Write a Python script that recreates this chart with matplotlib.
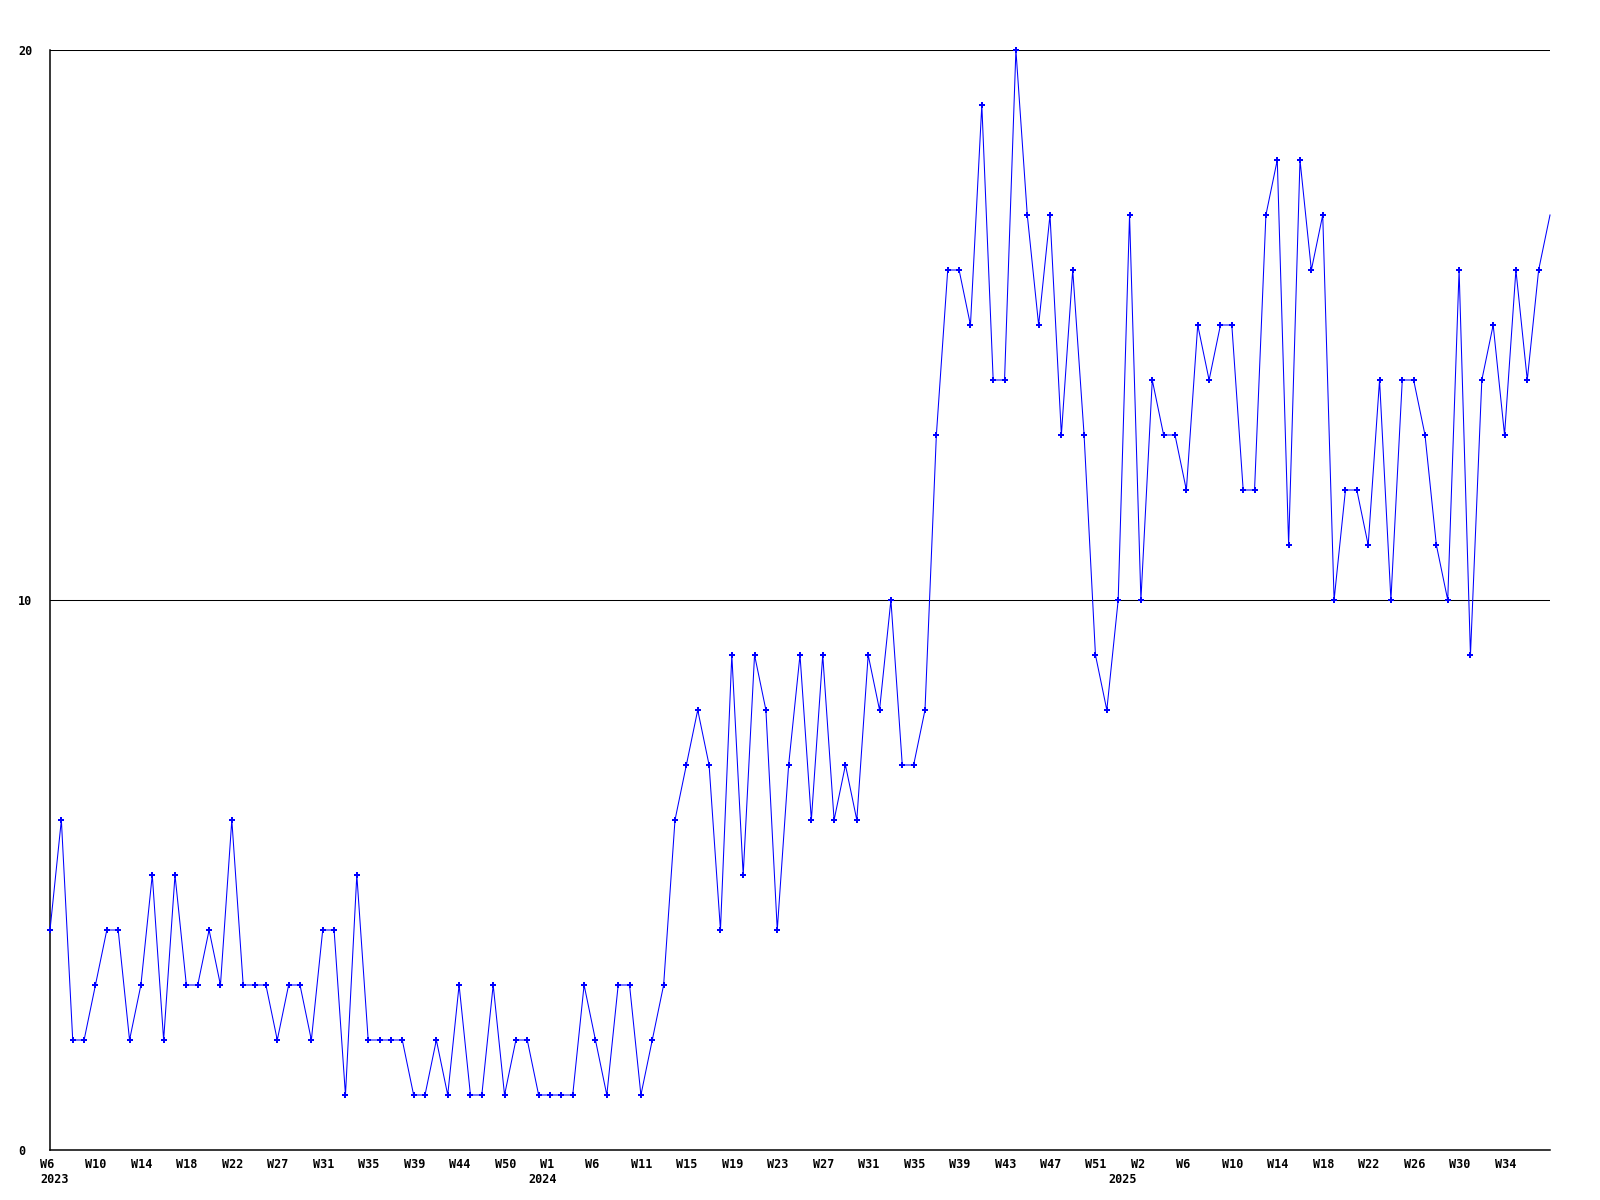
import numpy as np
import matplotlib
matplotlib.use("Agg")
import matplotlib.pyplot as plt
import matplotlib.transforms as mtransforms

# valores semanais (2023 W6 .. 2025)
valores = [4, 6, 2, 2, 3, 4, 4, 2, 3, 5, 2, 5, 3, 3, 4, 3, 6, 3, 3, 3,
           2, 3, 3, 2, 4, 4, 1, 5, 2, 2, 2, 2, 1, 1, 2, 1, 3, 1, 1, 3,
           1, 2, 2, 1, 1, 1, 1, 3, 2, 1, 3, 3, 1, 2, 3, 6, 7, 8, 7, 4,
           9, 5, 9, 8, 4, 7, 9, 6, 9, 6, 7, 6, 9, 8, 10, 7, 7, 8, 13, 16,
           16, 15, 19, 14, 14, 20, 17, 15, 17, 13, 16, 13, 9, 8, 10, 17, 10, 14, 13, 13,
           12, 15, 14, 15, 15, 12, 12, 17, 18, 11, 18, 16, 17, 10, 12, 12, 11, 14, 10, 14,
           14, 13, 11, 10, 16, 9, 14, 15, 13, 16, 14, 16, 17]

# rótulos das semanas (um a cada 4 pontos)
semanas = ["W6", "W10", "W14", "W18", "W22", "W27", "W31", "W35", "W39", "W44",
           "W50", "W1", "W6", "W11", "W15", "W19", "W23", "W27", "W31", "W35",
           "W39", "W43", "W47", "W51", "W2", "W6", "W10", "W14", "W18", "W22",
           "W26", "W30", "W34"]
passo_semanas = 4

# anos e o índice onde começam
anos = ["2023", "2024", "2025"]
inicio_anos = [0, 43, 94]

plt.rcParams['font.family'] = 'DejaVu Sans Mono'
plt.rcParams['font.weight'] = 'bold'

x = np.arange(len(valores))

fig = plt.figure(figsize=(16, 12), dpi=100)
ax = fig.add_axes([50 / 1600, 50 / 1200, 1500 / 1600, 1100 / 1200])

ax.plot(x, valores, color='#0000ff', linewidth=0.75, marker='P', markersize=4.5,
        markeredgewidth=0, markevery=slice(0, len(valores) - 1), clip_on=False,
        zorder=3)

ax.set_xlim(0, len(valores) - 1)
ax.set_ylim(0, 20)

# linhas de grade horizontais
for v in [10, 20]:
    ax.axhline(v, color='black', linewidth=0.75, zorder=2)

for lado in ['top', 'right']:
    ax.spines[lado].set_visible(False)
for lado in ['left', 'bottom']:
    ax.spines[lado].set_linewidth(1.1)
    ax.spines[lado].set_color('black')

# eixo y
ax.set_yticks([0, 10, 20])
ax.set_yticklabels(['0', '10', '20'], fontsize=8.5, fontweight='bold')
ax.tick_params(axis='y', length=0, pad=23)
for lab in ax.get_yticklabels():
    lab.set_horizontalalignment('left')

# eixo x
ax.set_xticks(x[::passo_semanas][:len(semanas)])
ax.set_xticklabels(semanas, fontsize=8.5, fontweight='bold')
ax.tick_params(axis='x', length=0, pad=5.5)
desloc = mtransforms.ScaledTranslation(-10 / 100, 0, fig.dpi_scale_trans)
for lab in ax.get_xticklabels():
    lab.set_horizontalalignment('left')
    lab.set_transform(lab.get_transform() + desloc)

for ano, i in zip(anos, inicio_anos):
    ax.annotate(ano, xy=(i, 0), xycoords=('data', 'axes fraction'),
                xytext=(-7.2, -16.5), textcoords='offset points',
                ha='left', va='top', fontsize=8.5, fontweight='bold')

fig.savefig('out.png', dpi=100, facecolor='white')
